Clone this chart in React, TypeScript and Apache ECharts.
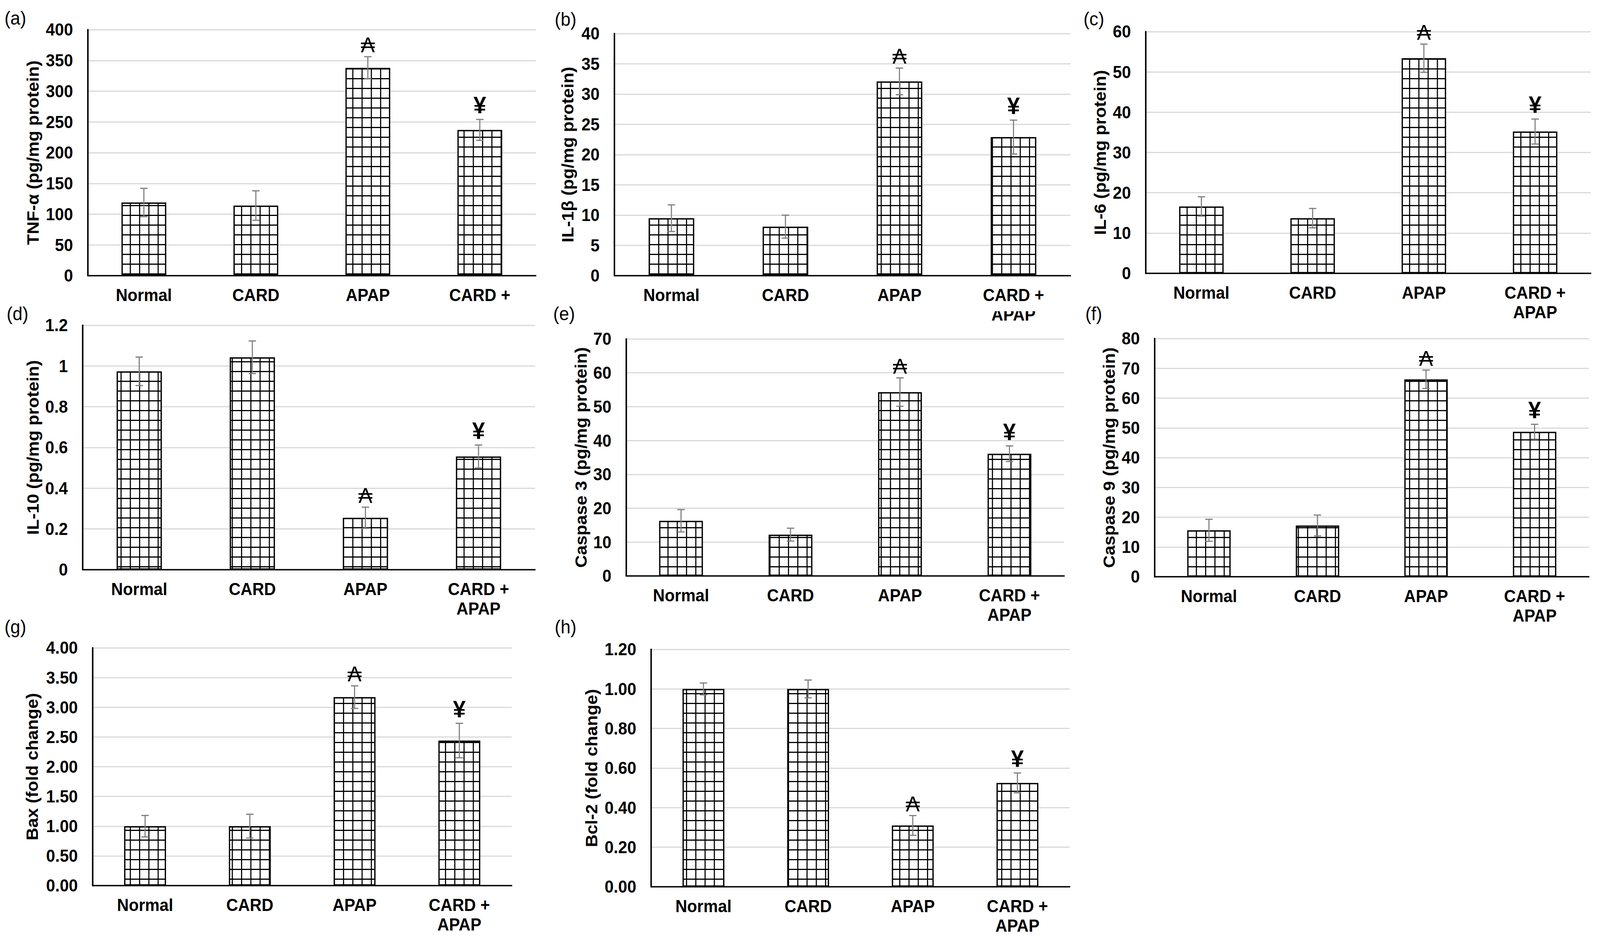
import React, { useEffect, useRef } from "react";
import * as echarts from "echarts";

const categories = ["Normal", "CARD", "APAP", "CARD +\nAPAP"];
const categoriesA = ["Normal", "CARD", "APAP", "CARD +"];
const sigMarks = ["", "", "₳", "¥"];

const tnfMean = [119, 114, 338, 237];
const tnfErr = [23, 24, 18, 17];
const il1bMean = [9.5, 8.1, 32.1, 22.9];
const il1bErr = [2.2, 1.9, 2.2, 2.8];
const il6Mean = [16.6, 13.7, 53.4, 35.2];
const il6Err = [2.4, 2.4, 3.5, 3.1];
const il10Mean = [0.974, 1.043, 0.255, 0.556];
const il10Err = [0.07, 0.08, 0.052, 0.056];
const casp3Mean = [16.3, 12.2, 54.3, 36.1];
const casp3Err = [3.3, 1.9, 4.2, 2.3];
const casp9Mean = [15.6, 17.2, 66.3, 48.7];
const casp9Err = [3.7, 3.5, 3.1, 2.5];
const baxMean = [1.0, 1.0, 3.17, 2.44];
const baxErr = [0.18, 0.2, 0.19, 0.29];
const bcl2Mean = [1.0, 1.0, 0.31, 0.525];
const bcl2Err = [0.03, 0.045, 0.05, 0.05];

const FONT = "'Liberation Sans', Arial, Helvetica, sans-serif";
const W = 4315;
const H = 2415;

const fmt0 = (v: number) => String(Math.round(v));
const fmt1 = (v: number) => String(Math.round(v * 10) / 10);
const fmt2 = (v: number) => v.toFixed(2);

const panels = [
  { label: "(a)", lx: 12, ly: 47, left: 237, top: 76, width: 1208, height: 630, mean: tnfMean, err: tnfErr, max: 400, interval: 50, fmt: fmt0, name: "TNF-α (pg/mg protein)", nameGap: 126, cats: categoriesA },
  { label: "(b)", lx: 1496, ly: 50, left: 1657, top: 86, width: 1230, height: 620, mean: il1bMean, err: il1bErr, max: 40, interval: 5, fmt: fmt0, name: "IL-1β (pg/mg protein)", nameGap: 104, cats: categories },
  { label: "(c)", lx: 2922, ly: 49, left: 3090, top: 81, width: 1200, height: 619, mean: il6Mean, err: il6Err, max: 60, interval: 10, fmt: fmt0, name: "IL-6 (pg/mg protein)", nameGap: 101, cats: categories },
  { label: "(d)", lx: 18, ly: 804, left: 223, top: 833, width: 1220, height: 626, mean: il10Mean, err: il10Err, max: 1.2, interval: 0.2, fmt: fmt1, name: "IL-10 (pg/mg protein)", nameGap: 112, cats: categories },
  { label: "(e)", lx: 1492, ly: 804, left: 1689, top: 868, width: 1181, height: 607, mean: casp3Mean, err: casp3Err, max: 70, interval: 10, fmt: fmt0, name: "Caspase 3 (pg/mg protein)", nameGap: 100, cats: categories },
  { label: "(f)", lx: 2927, ly: 804, left: 3114, top: 867, width: 1171, height: 610, mean: casp9Mean, err: casp9Err, max: 80, interval: 10, fmt: fmt0, name: "Caspase 9 (pg/mg protein)", nameGap: 101, cats: categories },
  { label: "(g)", lx: 12, ly: 1606, left: 250, top: 1659, width: 1130, height: 609, mean: baxMean, err: baxErr, max: 4, interval: 0.5, fmt: fmt2, name: "Bax (fold change)", nameGap: 141, cats: categories },
  { label: "(h)", lx: 1496, ly: 1606, left: 1756, top: 1663, width: 1129, height: 608, mean: bcl2Mean, err: bcl2Err, max: 1.2, interval: 0.2, fmt: fmt2, name: "Bcl-2 (fold change)", nameGap: 139, cats: categories },
];

const patternSvg =
  "data:image/svg+xml;charset=utf-8," +
  encodeURIComponent(
    "<svg xmlns='http://www.w3.org/2000/svg' width='25' height='25'>" +
      "<rect width='25' height='25' fill='white'/>" +
      "<rect x='0' y='0' width='3' height='25' fill='black'/>" +
      "<rect x='0' y='0' width='25' height='3' fill='black'/>" +
      "</svg>"
  );

function buildOption() {
  const grid: any[] = [];
  const xAxis: any[] = [];
  const yAxis: any[] = [];
  const series: any[] = [];
  const graphic: any[] = [];
  const pattern: any = { image: patternSvg, repeat: "repeat", imageWidth: 25, imageHeight: 25 };

  panels.forEach((p, k) => {
    grid.push({ left: p.left, top: p.top, width: p.width, height: p.height, containLabel: false });
    xAxis.push({
      gridIndex: k,
      type: "category",
      data: p.cats,
      boundaryGap: true,
      axisTick: { show: false },
      axisLine: { show: true, lineStyle: { color: "#000", width: 3.5 } },
      splitLine: { show: false },
      axisLabel: {
        interval: 0,
        margin: 25,
        color: "#000",
        fontSize: 44,
        fontWeight: "bold",
        fontFamily: FONT,
        lineHeight: 50,
      },
    });
    yAxis.push({
      gridIndex: k,
      type: "value",
      min: 0,
      max: p.max,
      interval: p.interval,
      axisLine: { show: true, lineStyle: { color: "#000", width: 4 } },
      axisTick: { show: false },
      splitLine: { show: true, lineStyle: { color: "#d9d9d9", width: 3 } },
      axisLabel: {
        margin: 40,
        color: "#000",
        fontSize: 44,
        fontWeight: "bold",
        fontFamily: FONT,
        formatter: p.fmt,
      },
      name: p.name,
      nameLocation: "middle",
      nameRotate: 90,
      nameGap: p.nameGap,
      nameMoveOverlap: false,
      nameTextStyle: { color: "#000", fontSize: 45, fontWeight: "bold", fontFamily: FONT },
    });
    series.push({
      type: "bar",
      xAxisIndex: k,
      yAxisIndex: k,
      data: p.mean,
      barWidth: "40%",
      silent: true,
      itemStyle: { color: pattern, borderColor: "#000", borderWidth: 3.5 },
    });
    const errData = p.mean.map((m, i) => [i, m, p.err[i]]);
    series.push({
      type: "custom",
      xAxisIndex: k,
      yAxisIndex: k,
      data: errData,
      encode: { x: 0, y: 1 },
      z: 10,
      silent: true,
      renderItem: (params: any, api: any) => {
        const i = params.dataIndex;
        const m = api.value(1);
        const e = api.value(2);
        const topPt = api.coord([i, m + e]);
        const botPt = api.coord([i, m - e]);
        const x = topPt[0];
        const cap = 10;
        const ls = { stroke: "#7f7f7f", lineWidth: 3 };
        const children: any[] = [
          { type: "line", shape: { x1: x, y1: topPt[1], x2: x, y2: botPt[1] }, style: ls },
          { type: "line", shape: { x1: x - cap, y1: topPt[1], x2: x + cap, y2: topPt[1] }, style: ls },
          { type: "line", shape: { x1: x - cap, y1: botPt[1], x2: x + cap, y2: botPt[1] }, style: ls },
        ];
        const mark = sigMarks[i];
        if (mark) {
          const isYen = mark === "¥";
          children.push({
            type: "text",
            style: {
              text: mark,
              x: x,
              y: topPt[1] - (isYen ? 6 : 2),
              align: "center",
              verticalAlign: "bottom",
              fill: "#000",
              fontSize: isYen ? 62 : 56,
              fontWeight: isYen ? "bold" : "normal",
              fontFamily: FONT,
            },
          });
        }
        return { type: "group", children };
      },
    });
    graphic.push({
      type: "text",
      x: p.lx,
      y: p.ly,
      z: 100,
      style: { text: p.label, fill: "#000", fontSize: 48, fontFamily: FONT, align: "left", verticalAlign: "middle" },
    });
  });

  // panel (b): second line of the last category label is partly hidden by panel (e)
  graphic.push({
    type: "rect",
    z: 100,
    shape: { x: 2630, y: 779, width: 190, height: 18 },
    style: { fill: "#ffffff" },
  });

  return {
    animation: false,
    backgroundColor: "#ffffff",
    grid,
    xAxis,
    yAxis,
    series,
    graphic,
  };
}

export default function App() {
  const ref = useRef<HTMLDivElement>(null);
  const sx = typeof window !== "undefined" && window.innerWidth ? window.innerWidth / W : 1;
  const sy = typeof window !== "undefined" && window.innerHeight ? window.innerHeight / H : 1;
  useEffect(() => {
    document.body.style.margin = "0";
    document.body.style.overflow = "hidden";
    if (!ref.current) return;
    const chart = echarts.init(ref.current, undefined, { renderer: "svg", width: W, height: H });
    chart.setOption(buildOption() as any);
    return () => chart.dispose();
  }, []);
  return (
    <div
      style={{
        position: "absolute",
        left: 0,
        top: 0,
        width: W,
        height: H,
        transform: `scale(${sx}, ${sy})`,
        transformOrigin: "0 0",
        background: "#fff",
      }}
    >
      <div ref={ref} style={{ width: W, height: H }} />
    </div>
  );
}
